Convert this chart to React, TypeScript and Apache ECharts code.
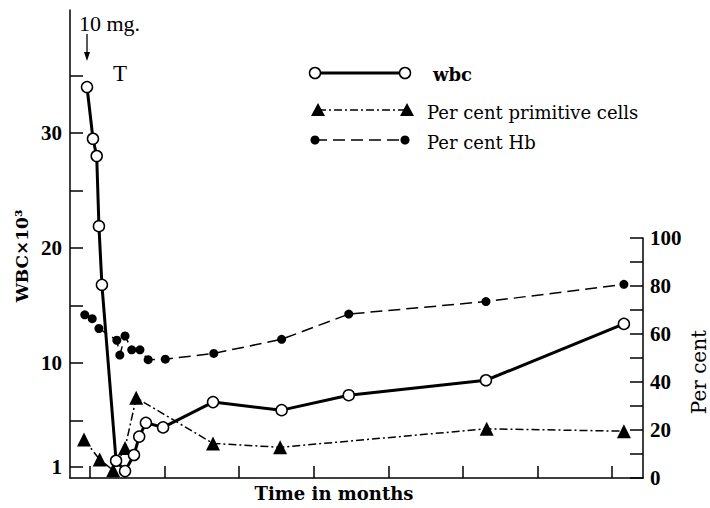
import React, { useEffect, useRef } from "react";
import * as echarts from "echarts";

// Time (months) and values
const wbcMonths = [-0.04, 0.04, 0.09, 0.12, 0.16, 0.35, 0.47, 0.59, 0.66, 0.75, 0.98, 1.65, 2.57, 3.47, 5.31, 7.16];
const wbcValues = [34.0, 29.5, 28.0, 21.9, 16.8, 1.5, 0.6, 2.0, 3.6, 4.8, 4.4, 6.6, 5.9, 7.2, 8.5, 13.4];

const hbMonths = [-0.07, 0.03, 0.12, 0.36, 0.4, 0.47, 0.56, 0.67, 0.78, 1.01, 1.66, 2.57, 3.47, 5.31, 7.16];
const hbValues = [68.0, 66.4, 62.3, 57.4, 51.2, 59.2, 53.4, 53.4, 49.3, 49.5, 51.9, 57.8, 68.3, 73.5, 80.7];

const primMonths = [-0.08, 0.13, 0.31, 0.47, 0.62, 1.65, 2.55, 5.32, 7.16];
const primValues = [16.0, 7.7, 3.2, 12.5, 33.4, 14.4, 12.8, 20.5, 19.5];

const monthTicks = [0, 1, 2, 3, 4, 5, 6, 7];
const wbcTicks = [1, 5, 10, 15, 20, 25, 30, 35];
const wbcLabels = [1, 10, 20, 30];
const pctTicks = [0, 10, 20, 30, 40, 50, 60, 70, 80, 90, 100];
const pctLabels = [0, 20, 40, 60, 80, 100];

const zip = (xs: number[], ys: number[]) => xs.map((x, i) => [x, ys[i]]);

const SERIF = "Liberation Serif";
const SERIF2 = "DejaVu Serif";

function tri(cx: number, cy: number) {
  return [
    [cx - 7, cy + 6],
    [cx + 7, cy + 6],
    [cx, cy - 7],
  ];
}

export default function App() {
  const ref = useRef<HTMLDivElement>(null);
  useEffect(() => {
    if (!ref.current) return;
    const chart = echarts.init(ref.current, null, { renderer: "svg" });
    const xMin = -0.268;
    const xMax = 7.416;
    const axisLabelStyle = {
      fontFamily: SERIF,
      fontWeight: "bold" as const,
      fontSize: 21,
      color: "#000",
    };
    chart.setOption({
      animation: false,
      backgroundColor: "#fff",
      grid: [
        { left: 70, right: 67, top: 10, bottom: 30 },
        { left: 70, right: 67, top: 238, bottom: 30 },
      ],
      xAxis: [
        {
          type: "value",
          gridIndex: 0,
          min: xMin,
          max: xMax,
          axisLine: { show: true, onZero: false, lineStyle: { color: "#000", width: 1.5 } },
          axisTick: {
            show: true,
            inside: true,
            length: 12,
            customValues: monthTicks,
            lineStyle: { color: "#000", width: 1.5 },
          },
          axisLabel: { show: false },
          splitLine: { show: false },
        },
        {
          type: "value",
          gridIndex: 1,
          min: xMin,
          max: xMax,
          show: false,
        },
      ],
      yAxis: [
        {
          type: "value",
          gridIndex: 0,
          position: "left",
          min: 0,
          max: 40.7,
          axisLine: { show: true, onZero: false, lineStyle: { color: "#000", width: 1.5 } },
          axisTick: {
            show: true,
            inside: true,
            length: 13,
            customValues: wbcTicks,
            lineStyle: { color: "#000", width: 1.5 },
          },
          axisLabel: { ...axisLabelStyle, margin: 8, customValues: wbcLabels },
          splitLine: { show: false },
        },
        {
          type: "value",
          gridIndex: 1,
          position: "right",
          min: 0,
          max: 100,
          axisLine: { show: true, onZero: false, lineStyle: { color: "#000", width: 1.5 } },
          axisTick: {
            show: true,
            inside: true,
            length: 13,
            customValues: pctTicks,
            lineStyle: { color: "#000", width: 1.5 },
          },
          axisLabel: { ...axisLabelStyle, margin: 7, customValues: pctLabels },
          splitLine: { show: false },
        },
      ],
      series: [
        {
          name: "Per cent Hb",
          type: "line",
          xAxisIndex: 1,
          yAxisIndex: 1,
          data: zip(hbMonths, hbValues),
          symbol: "circle",
          symbolSize: 9,
          clip: false,
          itemStyle: { color: "#000" },
          lineStyle: { color: "#000", width: 1.5, type: [12, 6] },
          z: 2,
        },
        {
          name: "Per cent primitive cells",
          type: "line",
          xAxisIndex: 1,
          yAxisIndex: 1,
          data: zip(primMonths, primValues),
          symbol: "triangle",
          symbolSize: 14,
          clip: false,
          itemStyle: { color: "#000" },
          lineStyle: { color: "#000", width: 1.5, type: [8, 3, 2, 3] },
          z: 3,
        },
        {
          name: "wbc",
          type: "line",
          xAxisIndex: 0,
          yAxisIndex: 0,
          data: zip(wbcMonths, wbcValues),
          symbol: "circle",
          symbolSize: 11,
          clip: false,
          itemStyle: { color: "#fff", borderColor: "#000", borderWidth: 1.5 },
          lineStyle: { color: "#000", width: 3 },
          z: 4,
        },
      ],
      graphic: [
        // annotations
        {
          type: "text",
          x: 79,
          y: 23,
          style: { text: "10 mg.", fontFamily: SERIF, fontSize: 22, fill: "#000", align: "left", verticalAlign: "middle" },
        },
        { type: "line", shape: { x1: 87, y1: 34, x2: 87, y2: 56 }, style: { stroke: "#000", lineWidth: 1.3 } },
        { type: "polygon", shape: { points: [[84, 52], [90, 52], [87, 61]] }, style: { fill: "#000" } },
        {
          type: "text",
          x: 120,
          y: 73,
          style: { text: "T", fontFamily: SERIF, fontSize: 23, fill: "#000", align: "center", verticalAlign: "middle" },
        },
        // legend row 1
        { type: "line", shape: { x1: 315, y1: 73, x2: 405, y2: 73 }, style: { stroke: "#000", lineWidth: 3 } },
        { type: "circle", shape: { cx: 315, cy: 73, r: 5.5 }, style: { fill: "#fff", stroke: "#000", lineWidth: 1.5 } },
        { type: "circle", shape: { cx: 405, cy: 73, r: 5.5 }, style: { fill: "#fff", stroke: "#000", lineWidth: 1.5 } },
        {
          type: "text",
          x: 433,
          y: 74,
          style: { text: "wbc", fontFamily: SERIF2, fontWeight: "bold", fontSize: 18, fill: "#000", align: "left", verticalAlign: "middle" },
        },
        // legend row 2
        {
          type: "line",
          shape: { x1: 318, y1: 110, x2: 407, y2: 110 },
          style: { stroke: "#000", lineWidth: 1.5, lineDash: [8, 3, 2, 3] },
        },
        { type: "polygon", shape: { points: tri(318, 110) }, style: { fill: "#000" } },
        { type: "polygon", shape: { points: tri(407, 110) }, style: { fill: "#000" } },
        {
          type: "text",
          x: 427,
          y: 112,
          style: { text: "Per cent primitive cells", fontFamily: SERIF2, fontSize: 18, fill: "#000", align: "left", verticalAlign: "middle" },
        },
        // legend row 3
        {
          type: "line",
          shape: { x1: 315, y1: 140, x2: 405, y2: 140 },
          style: { stroke: "#000", lineWidth: 1.5, lineDash: [12, 6] },
        },
        { type: "circle", shape: { cx: 315, cy: 140, r: 4.5 }, style: { fill: "#000" } },
        { type: "circle", shape: { cx: 405, cy: 140, r: 4.5 }, style: { fill: "#000" } },
        {
          type: "text",
          x: 427,
          y: 142,
          style: { text: "Per cent Hb", fontFamily: SERIF2, fontSize: 18, fill: "#000", align: "left", verticalAlign: "middle" },
        },
        // axis titles
        {
          type: "text",
          x: 334,
          y: 493,
          style: { text: "Time in months", fontFamily: SERIF2, fontWeight: "bold", fontSize: 18, fill: "#000", align: "center", verticalAlign: "middle" },
        },
        {
          type: "text",
          x: 22,
          y: 256,
          rotation: Math.PI / 2,
          style: { text: "WBC×10³", fontFamily: SERIF2, fontWeight: "bold", fontSize: 17, fill: "#000", align: "center", verticalAlign: "middle" },
        },
        {
          type: "text",
          x: 699,
          y: 372,
          rotation: Math.PI / 2,
          style: { text: "Per cent", fontFamily: SERIF2, fontSize: 20, fill: "#000", align: "center", verticalAlign: "middle" },
        },
      ],
    });
    return () => chart.dispose();
  }, []);
  return <div ref={ref} style={{ width: 710, height: 508, position: "absolute", left: 0, top: 0 }} />;
}
